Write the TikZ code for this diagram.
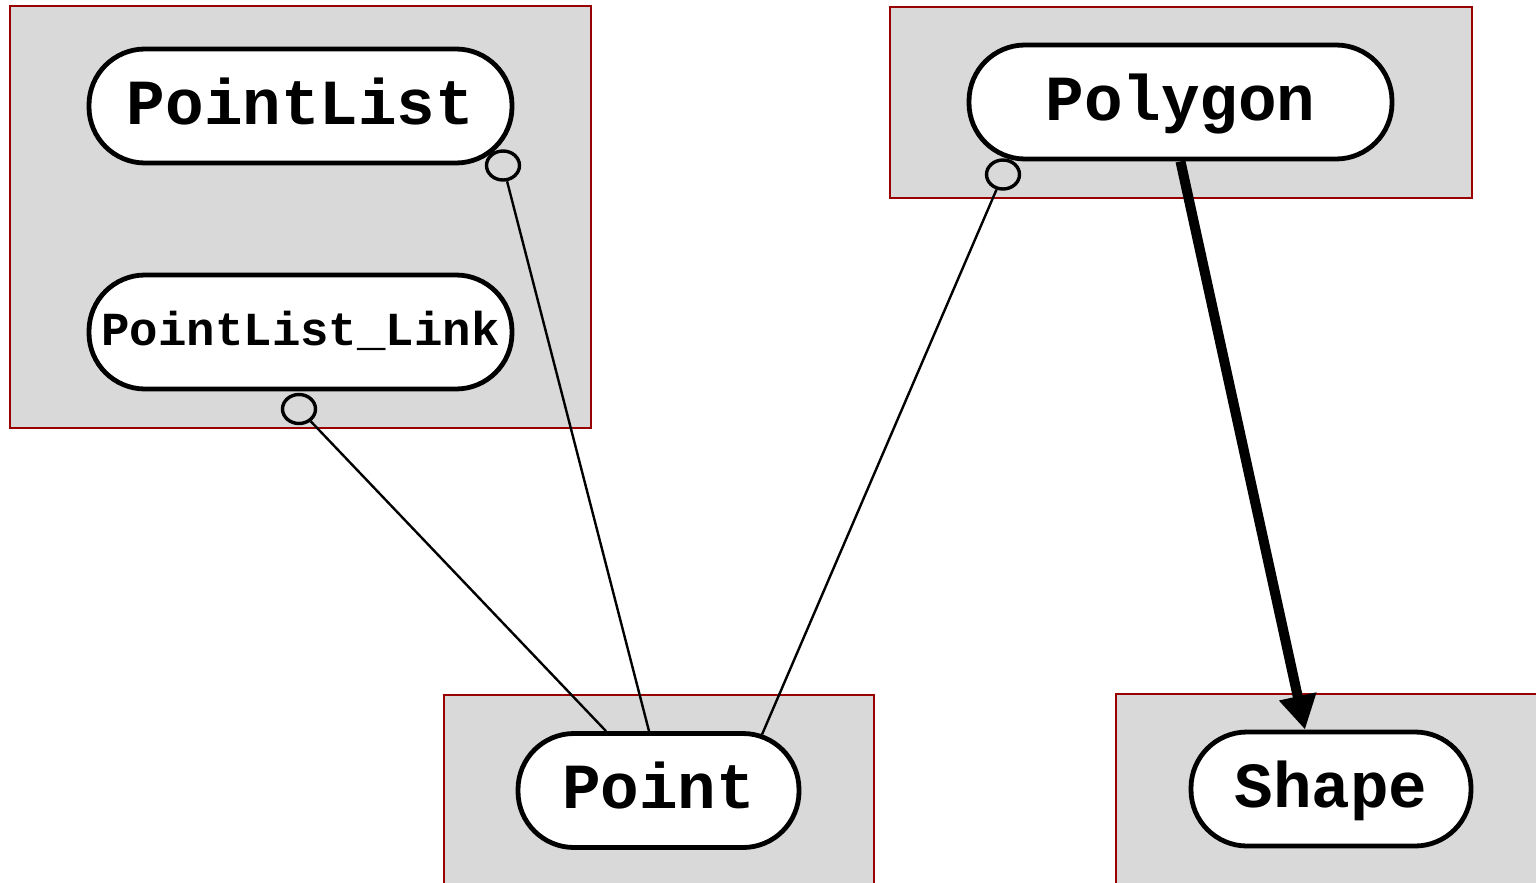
\documentclass[tikz,border=0pt]{standalone}
\usepackage{fontspec}
\newfontfamily\codefont{Liberation Mono}
\usetikzlibrary{arrows.meta,shapes.geometric}
\definecolor{clusterfill}{HTML}{D9D9D9}
\definecolor{clusterline}{HTML}{990000}
\tikzset{
  cluster/.style={fill=clusterfill, draw=clusterline, line width=1.2},
  classbox/.style={draw=black, fill=white, line width=4.8, rounded corners=56,
    minimum width=423, minimum height=114, inner sep=0,
    font=\codefont\bfseries\fontsize{64.3}{68}\selectfont,
    text height=48, text depth=12},
  smallclass/.style={classbox,
    font=\codefont\bfseries\fontsize{47.4}{51}\selectfont,
    text height=35, text depth=9},
  assoc/.style={draw=black, line width=2.4},
  odot/.style={draw=black, ellipse, line width=3.4, minimum width=33,
    minimum height=29, inner sep=0},
  inherit/.style={draw=black, line width=10,
    -{Triangle[length=34,width=36]}}
}
\begin{document}
\begin{tikzpicture}[x=1pt, y=-1pt]
  \clip (0,0) rectangle (1536,883);
  % package clusters
  \draw[cluster] (10,6) rectangle (591,428);
  \draw[cluster] (890,7) rectangle (1472,198);
  \draw[cluster] (444,695) rectangle (874,895);
  \draw[cluster] (1116,694) rectangle (1545,895);
  % classes
  \node[classbox] (PointList) at (300.5,106) {PointList};
  \node[smallclass] (PointListLink) at (300.5,332) {PointList\_Link};
  \node[classbox] (Polygon) at (1180.5,102) {Polygon};
  \node[classbox, minimum width=281] (Point) at (658.5,790.5) {Point};
  \node[classbox, minimum width=280] (Shape) at (1331,789) {Shape};
  % aggregation ends
  \node[odot] (c1) at (503,165.5) {};
  \node[odot] (c2) at (299,409) {};
  \node[odot] (c3) at (1003,174.5) {};
  \draw[assoc] (c1) -- ([xshift=-9.5]Point.north);
  \draw[assoc] (c2) -- ([xshift=-52.5]Point.north);
  \draw[assoc] (c3) -- ([shift={(103.5,-56)}]Point.center);
  % generalisation
  \draw[inherit] (Polygon.south) -- ([xshift=-26]Shape.north);
\end{tikzpicture}
\end{document}
